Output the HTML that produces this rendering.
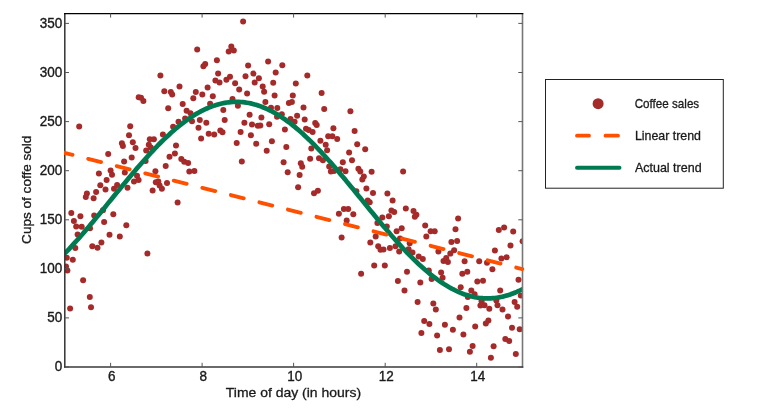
<!DOCTYPE html><html><head><meta charset="utf-8"><style>
html,body{margin:0;padding:0;background:#fff;width:759px;height:412px;overflow:hidden}
svg{display:block;font-family:"Liberation Sans",sans-serif;will-change:transform}
</style></head><body>
<svg width="759" height="412" viewBox="0 0 759 412">
<defs><clipPath id="ax"><rect x="64.8" y="13.6" width="457.7" height="353.4"/></clipPath><clipPath id="ax2"><rect x="64.0" y="13.6" width="462.0" height="353.4"/></clipPath></defs>
<g clip-path="url(#ax)" fill="#a52a2a">
<circle cx="243.1" cy="21.5" r="3.0"/>
<circle cx="197.2" cy="49.5" r="3.0"/>
<circle cx="231.3" cy="46.6" r="3.0"/>
<circle cx="228.7" cy="51.5" r="3.0"/>
<circle cx="233.8" cy="50.4" r="3.0"/>
<circle cx="216.9" cy="60.3" r="3.0"/>
<circle cx="205.2" cy="64.1" r="3.0"/>
<circle cx="203.4" cy="66.2" r="3.0"/>
<circle cx="248.1" cy="65.4" r="3.0"/>
<circle cx="268.1" cy="61.5" r="3.0"/>
<circle cx="282.3" cy="65.3" r="3.0"/>
<circle cx="275.7" cy="72.5" r="3.0"/>
<circle cx="218.1" cy="73.4" r="3.0"/>
<circle cx="253.4" cy="73.6" r="3.0"/>
<circle cx="160.4" cy="75.4" r="3.0"/>
<circle cx="164.3" cy="91.2" r="3.0"/>
<circle cx="170.8" cy="91.9" r="3.0"/>
<circle cx="172.2" cy="94.4" r="3.0"/>
<circle cx="138.7" cy="97.2" r="3.0"/>
<circle cx="141.0" cy="97.7" r="3.0"/>
<circle cx="143.4" cy="101.0" r="3.0"/>
<circle cx="168.2" cy="108.2" r="3.0"/>
<circle cx="79.2" cy="126.5" r="3.0"/>
<circle cx="130.2" cy="126.2" r="3.0"/>
<circle cx="173.1" cy="126.8" r="3.0"/>
<circle cx="178.5" cy="121.7" r="3.0"/>
<circle cx="179.5" cy="86.6" r="3.0"/>
<circle cx="215.4" cy="80.6" r="3.0"/>
<circle cx="219.5" cy="82.5" r="3.0"/>
<circle cx="226.4" cy="79.7" r="3.0"/>
<circle cx="230.0" cy="76.8" r="3.0"/>
<circle cx="235.1" cy="83.3" r="3.0"/>
<circle cx="207.6" cy="87.5" r="3.0"/>
<circle cx="195.8" cy="91.9" r="3.0"/>
<circle cx="202.3" cy="94.4" r="3.0"/>
<circle cx="193.3" cy="98.2" r="3.0"/>
<circle cx="212.8" cy="96.3" r="3.0"/>
<circle cx="232.5" cy="99.0" r="3.0"/>
<circle cx="182.7" cy="104.0" r="3.0"/>
<circle cx="210.1" cy="103.8" r="3.0"/>
<circle cx="245.5" cy="76.2" r="3.0"/>
<circle cx="258.9" cy="78.2" r="3.0"/>
<circle cx="254.7" cy="82.5" r="3.0"/>
<circle cx="273.2" cy="82.8" r="3.0"/>
<circle cx="239.2" cy="89.4" r="3.0"/>
<circle cx="247.1" cy="93.6" r="3.0"/>
<circle cx="262.7" cy="86.4" r="3.0"/>
<circle cx="264.1" cy="91.7" r="3.0"/>
<circle cx="274.6" cy="95.5" r="3.0"/>
<circle cx="292.8" cy="95.4" r="3.0"/>
<circle cx="265.4" cy="102.0" r="3.0"/>
<circle cx="186.6" cy="110.7" r="3.0"/>
<circle cx="190.5" cy="113.2" r="3.0"/>
<circle cx="185.1" cy="118.5" r="3.0"/>
<circle cx="192.0" cy="121.2" r="3.0"/>
<circle cx="199.8" cy="120.0" r="3.0"/>
<circle cx="206.3" cy="122.7" r="3.0"/>
<circle cx="198.5" cy="127.8" r="3.0"/>
<circle cx="223.3" cy="110.1" r="3.0"/>
<circle cx="224.7" cy="120.0" r="3.0"/>
<circle cx="220.3" cy="130.4" r="3.0"/>
<circle cx="222.5" cy="132.3" r="3.0"/>
<circle cx="208.7" cy="133.7" r="3.0"/>
<circle cx="214.2" cy="134.4" r="3.0"/>
<circle cx="237.9" cy="105.8" r="3.0"/>
<circle cx="249.6" cy="114.7" r="3.0"/>
<circle cx="261.4" cy="117.6" r="3.0"/>
<circle cx="244.4" cy="122.7" r="3.0"/>
<circle cx="252.0" cy="124.5" r="3.0"/>
<circle cx="257.8" cy="125.8" r="3.0"/>
<circle cx="260.3" cy="125.4" r="3.0"/>
<circle cx="269.2" cy="124.2" r="3.0"/>
<circle cx="240.6" cy="131.9" r="3.0"/>
<circle cx="277.3" cy="108.0" r="3.0"/>
<circle cx="284.9" cy="129.6" r="3.0"/>
<circle cx="271.0" cy="107.8" r="3.0"/>
<circle cx="281.8" cy="114.3" r="3.0"/>
<circle cx="277.0" cy="116.8" r="3.0"/>
<circle cx="290.5" cy="119.0" r="3.0"/>
<circle cx="294.6" cy="121.8" r="3.0"/>
<circle cx="288.9" cy="102.9" r="3.0"/>
<circle cx="291.9" cy="102.0" r="3.0"/>
<circle cx="303.5" cy="107.5" r="3.0"/>
<circle cx="324.2" cy="109.0" r="3.0"/>
<circle cx="297.1" cy="115.8" r="3.0"/>
<circle cx="304.7" cy="119.5" r="3.0"/>
<circle cx="315.2" cy="123.0" r="3.0"/>
<circle cx="316.7" cy="125.0" r="3.0"/>
<circle cx="306.0" cy="128.7" r="3.0"/>
<circle cx="308.7" cy="130.0" r="3.0"/>
<circle cx="312.6" cy="132.1" r="3.0"/>
<circle cx="307.3" cy="75.6" r="3.0"/>
<circle cx="295.8" cy="83.6" r="3.0"/>
<circle cx="321.6" cy="93.0" r="3.0"/>
<circle cx="350.4" cy="111.3" r="3.0"/>
<circle cx="333.4" cy="128.3" r="3.0"/>
<circle cx="354.6" cy="130.9" r="3.0"/>
<circle cx="108.2" cy="154.0" r="3.0"/>
<circle cx="129.0" cy="135.3" r="3.0"/>
<circle cx="162.9" cy="134.6" r="3.0"/>
<circle cx="132.8" cy="142.3" r="3.0"/>
<circle cx="135.5" cy="148.1" r="3.0"/>
<circle cx="121.9" cy="143.3" r="3.0"/>
<circle cx="122.9" cy="146.0" r="3.0"/>
<circle cx="149.8" cy="139.3" r="3.0"/>
<circle cx="153.9" cy="139.3" r="3.0"/>
<circle cx="148.8" cy="144.8" r="3.0"/>
<circle cx="150.8" cy="147.5" r="3.0"/>
<circle cx="146.2" cy="150.6" r="3.0"/>
<circle cx="131.7" cy="157.6" r="3.0"/>
<circle cx="124.1" cy="161.6" r="3.0"/>
<circle cx="176.0" cy="145.6" r="3.0"/>
<circle cx="174.9" cy="153.5" r="3.0"/>
<circle cx="169.5" cy="156.8" r="3.0"/>
<circle cx="145.6" cy="161.0" r="3.0"/>
<circle cx="98.9" cy="173.5" r="3.0"/>
<circle cx="110.6" cy="170.5" r="3.0"/>
<circle cx="112.0" cy="174.7" r="3.0"/>
<circle cx="106.6" cy="180.0" r="3.0"/>
<circle cx="100.3" cy="185.2" r="3.0"/>
<circle cx="105.5" cy="189.4" r="3.0"/>
<circle cx="96.1" cy="192.1" r="3.0"/>
<circle cx="86.9" cy="193.4" r="3.0"/>
<circle cx="117.1" cy="185.0" r="3.0"/>
<circle cx="114.0" cy="188.8" r="3.0"/>
<circle cx="165.7" cy="166.1" r="3.0"/>
<circle cx="155.4" cy="171.3" r="3.0"/>
<circle cx="124.8" cy="172.4" r="3.0"/>
<circle cx="137.0" cy="175.8" r="3.0"/>
<circle cx="138.6" cy="180.0" r="3.0"/>
<circle cx="134.0" cy="181.6" r="3.0"/>
<circle cx="127.5" cy="187.7" r="3.0"/>
<circle cx="155.8" cy="182.3" r="3.0"/>
<circle cx="158.3" cy="181.6" r="3.0"/>
<circle cx="159.6" cy="185.4" r="3.0"/>
<circle cx="161.9" cy="188.7" r="3.0"/>
<circle cx="167.0" cy="183.0" r="3.0"/>
<circle cx="152.6" cy="190.4" r="3.0"/>
<circle cx="201.1" cy="138.5" r="3.0"/>
<circle cx="250.9" cy="135.3" r="3.0"/>
<circle cx="236.7" cy="143.1" r="3.0"/>
<circle cx="256.2" cy="143.7" r="3.0"/>
<circle cx="271.9" cy="141.2" r="3.0"/>
<circle cx="286.3" cy="147.0" r="3.0"/>
<circle cx="266.7" cy="150.7" r="3.0"/>
<circle cx="241.8" cy="161.6" r="3.0"/>
<circle cx="283.6" cy="162.2" r="3.0"/>
<circle cx="181.3" cy="159.0" r="3.0"/>
<circle cx="184.2" cy="161.7" r="3.0"/>
<circle cx="188.1" cy="163.0" r="3.0"/>
<circle cx="189.3" cy="171.4" r="3.0"/>
<circle cx="194.4" cy="170.9" r="3.0"/>
<circle cx="287.7" cy="172.2" r="3.0"/>
<circle cx="328.2" cy="136.2" r="3.0"/>
<circle cx="332.3" cy="136.2" r="3.0"/>
<circle cx="337.2" cy="138.9" r="3.0"/>
<circle cx="320.4" cy="140.8" r="3.0"/>
<circle cx="325.7" cy="144.7" r="3.0"/>
<circle cx="327.1" cy="150.3" r="3.0"/>
<circle cx="311.3" cy="148.6" r="3.0"/>
<circle cx="349.1" cy="152.6" r="3.0"/>
<circle cx="310.1" cy="158.8" r="3.0"/>
<circle cx="319.0" cy="158.3" r="3.0"/>
<circle cx="322.9" cy="160.2" r="3.0"/>
<circle cx="342.8" cy="162.2" r="3.0"/>
<circle cx="357.2" cy="144.3" r="3.0"/>
<circle cx="365.2" cy="149.3" r="3.0"/>
<circle cx="352.0" cy="160.3" r="3.0"/>
<circle cx="300.8" cy="163.3" r="3.0"/>
<circle cx="302.2" cy="166.7" r="3.0"/>
<circle cx="299.6" cy="174.9" r="3.0"/>
<circle cx="298.1" cy="187.3" r="3.0"/>
<circle cx="317.9" cy="190.8" r="3.0"/>
<circle cx="314.0" cy="193.2" r="3.0"/>
<circle cx="329.2" cy="166.5" r="3.0"/>
<circle cx="330.9" cy="171.4" r="3.0"/>
<circle cx="334.0" cy="170.9" r="3.0"/>
<circle cx="340.4" cy="169.2" r="3.0"/>
<circle cx="345.5" cy="171.2" r="3.0"/>
<circle cx="358.4" cy="168.7" r="3.0"/>
<circle cx="360.3" cy="171.4" r="3.0"/>
<circle cx="371.6" cy="171.8" r="3.0"/>
<circle cx="363.8" cy="176.4" r="3.0"/>
<circle cx="362.3" cy="179.6" r="3.0"/>
<circle cx="403.1" cy="171.4" r="3.0"/>
<circle cx="366.4" cy="188.5" r="3.0"/>
<circle cx="373.0" cy="192.9" r="3.0"/>
<circle cx="387.4" cy="193.5" r="3.0"/>
<circle cx="356.4" cy="191.2" r="3.0"/>
<circle cx="85.8" cy="197.0" r="3.0"/>
<circle cx="93.6" cy="198.3" r="3.0"/>
<circle cx="71.3" cy="213.0" r="3.0"/>
<circle cx="80.4" cy="216.3" r="3.0"/>
<circle cx="73.9" cy="221.1" r="3.0"/>
<circle cx="94.2" cy="215.5" r="3.0"/>
<circle cx="103.0" cy="210.2" r="3.0"/>
<circle cx="113.3" cy="214.2" r="3.0"/>
<circle cx="104.1" cy="221.9" r="3.0"/>
<circle cx="177.6" cy="202.6" r="3.0"/>
<circle cx="343.9" cy="208.9" r="3.0"/>
<circle cx="348.2" cy="208.9" r="3.0"/>
<circle cx="338.9" cy="213.8" r="3.0"/>
<circle cx="346.7" cy="220.6" r="3.0"/>
<circle cx="367.7" cy="200.4" r="3.0"/>
<circle cx="369.7" cy="202.3" r="3.0"/>
<circle cx="392.6" cy="200.4" r="3.0"/>
<circle cx="391.4" cy="210.5" r="3.0"/>
<circle cx="394.2" cy="212.1" r="3.0"/>
<circle cx="405.8" cy="208.6" r="3.0"/>
<circle cx="353.3" cy="214.2" r="3.0"/>
<circle cx="382.3" cy="217.5" r="3.0"/>
<circle cx="388.9" cy="216.2" r="3.0"/>
<circle cx="377.4" cy="222.9" r="3.0"/>
<circle cx="413.5" cy="211.0" r="3.0"/>
<circle cx="416.4" cy="214.8" r="3.0"/>
<circle cx="414.8" cy="216.7" r="3.0"/>
<circle cx="458.1" cy="218.5" r="3.0"/>
<circle cx="76.2" cy="226.4" r="3.0"/>
<circle cx="81.7" cy="226.8" r="3.0"/>
<circle cx="90.0" cy="228.3" r="3.0"/>
<circle cx="77.6" cy="234.5" r="3.0"/>
<circle cx="109.5" cy="234.8" r="3.0"/>
<circle cx="119.8" cy="236.4" r="3.0"/>
<circle cx="101.4" cy="242.5" r="3.0"/>
<circle cx="92.3" cy="246.3" r="3.0"/>
<circle cx="97.5" cy="247.8" r="3.0"/>
<circle cx="75.3" cy="248.1" r="3.0"/>
<circle cx="126.3" cy="225.3" r="3.0"/>
<circle cx="341.6" cy="237.5" r="3.0"/>
<circle cx="386.8" cy="226.5" r="3.0"/>
<circle cx="396.6" cy="231.2" r="3.0"/>
<circle cx="401.7" cy="228.3" r="3.0"/>
<circle cx="375.7" cy="236.6" r="3.0"/>
<circle cx="370.3" cy="242.4" r="3.0"/>
<circle cx="378.2" cy="246.2" r="3.0"/>
<circle cx="380.5" cy="249.8" r="3.0"/>
<circle cx="383.5" cy="249.4" r="3.0"/>
<circle cx="389.9" cy="247.9" r="3.0"/>
<circle cx="395.5" cy="246.3" r="3.0"/>
<circle cx="399.2" cy="251.5" r="3.0"/>
<circle cx="400.0" cy="238.4" r="3.0"/>
<circle cx="409.7" cy="243.3" r="3.0"/>
<circle cx="408.6" cy="249.2" r="3.0"/>
<circle cx="412.5" cy="252.4" r="3.0"/>
<circle cx="425.2" cy="225.4" r="3.0"/>
<circle cx="426.3" cy="236.6" r="3.0"/>
<circle cx="430.6" cy="231.2" r="3.0"/>
<circle cx="434.7" cy="231.2" r="3.0"/>
<circle cx="455.5" cy="229.2" r="3.0"/>
<circle cx="451.4" cy="242.1" r="3.0"/>
<circle cx="457.1" cy="241.0" r="3.0"/>
<circle cx="454.1" cy="250.3" r="3.0"/>
<circle cx="438.4" cy="251.4" r="3.0"/>
<circle cx="498.8" cy="230.0" r="3.0"/>
<circle cx="504.1" cy="227.5" r="3.0"/>
<circle cx="513.2" cy="231.4" r="3.0"/>
<circle cx="510.5" cy="245.6" r="3.0"/>
<circle cx="494.9" cy="250.6" r="3.0"/>
<circle cx="522.6" cy="241.3" r="3.0"/>
<circle cx="66.8" cy="257.7" r="3.0"/>
<circle cx="72.8" cy="259.7" r="3.0"/>
<circle cx="66.0" cy="266.4" r="3.0"/>
<circle cx="67.4" cy="270.4" r="3.0"/>
<circle cx="83.1" cy="280.3" r="3.0"/>
<circle cx="147.4" cy="253.5" r="3.0"/>
<circle cx="89.8" cy="296.9" r="3.0"/>
<circle cx="91.0" cy="307.2" r="3.0"/>
<circle cx="70.1" cy="308.5" r="3.0"/>
<circle cx="374.2" cy="265.6" r="3.0"/>
<circle cx="384.8" cy="265.6" r="3.0"/>
<circle cx="361.1" cy="273.8" r="3.0"/>
<circle cx="407.0" cy="271.8" r="3.0"/>
<circle cx="397.9" cy="281.0" r="3.0"/>
<circle cx="418.7" cy="256.5" r="3.0"/>
<circle cx="422.8" cy="259.1" r="3.0"/>
<circle cx="450.3" cy="253.6" r="3.0"/>
<circle cx="443.5" cy="261.1" r="3.0"/>
<circle cx="446.2" cy="257.9" r="3.0"/>
<circle cx="447.9" cy="262.1" r="3.0"/>
<circle cx="464.6" cy="261.2" r="3.0"/>
<circle cx="428.8" cy="270.5" r="3.0"/>
<circle cx="441.1" cy="272.4" r="3.0"/>
<circle cx="442.6" cy="277.7" r="3.0"/>
<circle cx="431.6" cy="279.0" r="3.0"/>
<circle cx="462.3" cy="273.8" r="3.0"/>
<circle cx="467.3" cy="271.7" r="3.0"/>
<circle cx="420.3" cy="282.5" r="3.0"/>
<circle cx="479.2" cy="261.2" r="3.0"/>
<circle cx="487.0" cy="262.7" r="3.0"/>
<circle cx="501.4" cy="258.4" r="3.0"/>
<circle cx="506.6" cy="257.3" r="3.0"/>
<circle cx="492.4" cy="269.3" r="3.0"/>
<circle cx="477.3" cy="281.6" r="3.0"/>
<circle cx="483.0" cy="280.8" r="3.0"/>
<circle cx="518.5" cy="279.8" r="3.0"/>
<circle cx="404.5" cy="290.4" r="3.0"/>
<circle cx="460.7" cy="287.3" r="3.0"/>
<circle cx="417.6" cy="302.1" r="3.0"/>
<circle cx="433.3" cy="303.4" r="3.0"/>
<circle cx="435.8" cy="309.4" r="3.0"/>
<circle cx="466.4" cy="308.0" r="3.0"/>
<circle cx="467.8" cy="297.0" r="3.0"/>
<circle cx="471.3" cy="290.4" r="3.0"/>
<circle cx="474.6" cy="294.3" r="3.0"/>
<circle cx="500.2" cy="290.4" r="3.0"/>
<circle cx="520.8" cy="295.4" r="3.0"/>
<circle cx="481.6" cy="301.3" r="3.0"/>
<circle cx="480.4" cy="305.4" r="3.0"/>
<circle cx="484.5" cy="305.2" r="3.0"/>
<circle cx="489.3" cy="308.7" r="3.0"/>
<circle cx="496.3" cy="300.5" r="3.0"/>
<circle cx="497.5" cy="305.2" r="3.0"/>
<circle cx="502.5" cy="309.6" r="3.0"/>
<circle cx="514.6" cy="302.1" r="3.0"/>
<circle cx="517.2" cy="306.7" r="3.0"/>
<circle cx="424.2" cy="320.9" r="3.0"/>
<circle cx="429.4" cy="324.0" r="3.0"/>
<circle cx="421.4" cy="333.1" r="3.0"/>
<circle cx="437.1" cy="335.4" r="3.0"/>
<circle cx="444.9" cy="324.7" r="3.0"/>
<circle cx="452.9" cy="329.7" r="3.0"/>
<circle cx="459.5" cy="317.5" r="3.0"/>
<circle cx="463.4" cy="334.6" r="3.0"/>
<circle cx="508.0" cy="316.5" r="3.0"/>
<circle cx="488.4" cy="320.6" r="3.0"/>
<circle cx="485.8" cy="323.5" r="3.0"/>
<circle cx="475.2" cy="326.4" r="3.0"/>
<circle cx="512.0" cy="327.8" r="3.0"/>
<circle cx="519.7" cy="329.2" r="3.0"/>
<circle cx="505.3" cy="339.0" r="3.0"/>
<circle cx="509.2" cy="341.0" r="3.0"/>
<circle cx="439.9" cy="350.0" r="3.0"/>
<circle cx="449.0" cy="349.2" r="3.0"/>
<circle cx="472.6" cy="346.1" r="3.0"/>
<circle cx="469.9" cy="351.7" r="3.0"/>
<circle cx="493.6" cy="346.2" r="3.0"/>
<circle cx="490.9" cy="357.7" r="3.0"/>
<circle cx="515.8" cy="354.0" r="3.0"/>
</g>
<g clip-path="url(#ax)" fill="none" stroke-linecap="round">
<path d="M62.8,255.5 L64.8,253.4 L66.8,251.4 L68.8,249.3 L70.8,247.1 L72.8,244.9 L74.8,242.7 L76.8,240.5 L78.8,238.3 L80.8,236.0 L82.8,233.7 L84.8,231.4 L86.8,229.0 L88.8,226.7 L90.8,224.3 L92.8,221.9 L94.8,219.5 L96.8,217.1 L98.8,214.7 L100.8,212.2 L102.8,209.8 L104.8,207.4 L106.8,204.9 L108.8,202.4 L110.8,200.0 L112.8,197.5 L114.8,195.1 L116.8,192.6 L118.8,190.2 L120.8,187.7 L122.8,185.3 L124.8,182.9 L126.8,180.5 L128.8,178.1 L130.8,175.7 L132.8,173.3 L134.8,171.0 L136.8,168.6 L138.8,166.3 L140.8,164.0 L142.8,161.7 L144.8,159.5 L146.8,157.3 L148.8,155.1 L150.8,152.9 L152.8,150.8 L154.8,148.6 L156.8,146.6 L158.8,144.5 L160.8,142.5 L162.8,140.5 L164.8,138.6 L166.8,136.7 L168.8,134.9 L170.8,133.0 L172.8,131.3 L174.8,129.5 L176.8,127.8 L178.8,126.2 L180.8,124.6 L182.8,123.1 L184.8,121.6 L186.8,120.1 L188.8,118.7 L190.8,117.4 L192.8,116.1 L194.8,114.8 L196.8,113.6 L198.8,112.5 L200.8,111.4 L202.8,110.4 L204.8,109.4 L206.8,108.5 L208.8,107.6 L210.8,106.8 L212.8,106.1 L214.8,105.4 L216.8,104.8 L218.8,104.2 L220.8,103.7 L222.8,103.3 L224.8,102.9 L226.8,102.5 L228.8,102.3 L230.8,102.1 L232.8,101.9 L234.8,101.9 L236.8,101.9 L238.8,101.9 L240.8,102.0 L242.8,102.2 L244.8,102.4 L246.8,102.7 L248.8,103.0 L250.8,103.4 L252.8,103.9 L254.8,104.5 L256.8,105.0 L258.8,105.7 L260.8,106.4 L262.8,107.2 L264.8,108.0 L266.8,108.9 L268.8,109.8 L270.8,110.8 L272.8,111.9 L274.8,113.0 L276.8,114.1 L278.8,115.4 L280.8,116.6 L282.8,118.0 L284.8,119.3 L286.8,120.8 L288.8,122.2 L290.8,123.7 L292.8,125.3 L294.8,126.9 L296.8,128.6 L298.8,130.3 L300.8,132.1 L302.8,133.8 L304.8,135.7 L306.8,137.6 L308.8,139.5 L310.8,141.4 L312.8,143.4 L314.8,145.4 L316.8,147.5 L318.8,149.6 L320.8,151.7 L322.8,153.9 L324.8,156.0 L326.8,158.3 L328.8,160.5 L330.8,162.7 L332.8,165.0 L334.8,167.3 L336.8,169.7 L338.8,172.0 L340.8,174.4 L342.8,176.8 L344.8,179.1 L346.8,181.6 L348.8,184.0 L350.8,186.4 L352.8,188.8 L354.8,191.3 L356.8,193.7 L358.8,196.2 L360.8,198.6 L362.8,201.1 L364.8,203.5 L366.8,206.0 L368.8,208.5 L370.8,210.9 L372.8,213.3 L374.8,215.8 L376.8,218.2 L378.8,220.6 L380.8,223.0 L382.8,225.4 L384.8,227.7 L386.8,230.1 L388.8,232.4 L390.8,234.7 L392.8,237.0 L394.8,239.3 L396.8,241.5 L398.8,243.7 L400.8,245.9 L402.8,248.1 L404.8,250.2 L406.8,252.3 L408.8,254.4 L410.8,256.4 L412.8,258.4 L414.8,260.4 L416.8,262.3 L418.8,264.2 L420.8,266.0 L422.8,267.8 L424.8,269.6 L426.8,271.3 L428.8,272.9 L430.8,274.6 L432.8,276.2 L434.8,277.7 L436.8,279.2 L438.8,280.6 L440.8,282.0 L442.8,283.3 L444.8,284.6 L446.8,285.8 L448.8,287.0 L450.8,288.1 L452.8,289.2 L454.8,290.2 L456.8,291.1 L458.8,292.0 L460.8,292.9 L462.8,293.7 L464.8,294.4 L466.8,295.0 L468.8,295.6 L470.8,296.2 L472.8,296.7 L474.8,297.1 L476.8,297.5 L478.8,297.8 L480.8,298.0 L482.8,298.2 L484.8,298.3 L486.8,298.3 L488.8,298.3 L490.8,298.3 L492.8,298.1 L494.8,298.0 L496.8,297.7 L498.8,297.4 L500.8,297.0 L502.8,296.6 L504.8,296.1 L506.8,295.5 L508.8,294.9 L510.8,294.3 L512.8,293.5 L514.8,292.7 L516.8,291.9 L518.8,291.0 L520.8,290.0 L522.8,289.0" stroke="#007a50" stroke-width="4.7"/>
</g>
<path d="M64.8,13.0 V367.7" stroke="#333" stroke-width="1.5" fill="none"/>
<path d="M522.5,13.0 V367.7" stroke="#777" stroke-width="1.6" fill="none"/>
<path d="M64.1,13.6 H523.3" stroke="#000" stroke-width="1.3" fill="none"/>
<path d="M64.1,367.0 H523.3" stroke="#3a3a3a" stroke-width="1.6" fill="none"/>
<path d="M110.6,367.0 v-4.2 M110.6,13.6 v4 M202.1,367.0 v-4.2 M202.1,13.6 v4 M293.6,367.0 v-4.2 M293.6,13.6 v4 M385.2,367.0 v-4.2 M385.2,13.6 v4 M476.7,367.0 v-4.2 M476.7,13.6 v4 M64.8,367.0 h4.2 M522.5,367.0 h-4.2 M64.8,317.9 h4.2 M522.5,317.9 h-4.2 M64.8,268.8 h4.2 M522.5,268.8 h-4.2 M64.8,219.8 h4.2 M522.5,219.8 h-4.2 M64.8,170.7 h4.2 M522.5,170.7 h-4.2 M64.8,121.6 h4.2 M522.5,121.6 h-4.2 M64.8,72.5 h4.2 M522.5,72.5 h-4.2 M64.8,23.4 h4.2 M522.5,23.4 h-4.2" stroke="#555" stroke-width="1" fill="none"/>
<path clip-path="url(#ax2)" d="M64.5,152.8 L522.3,269.1" fill="none" stroke-linecap="round" stroke="#ff5000" stroke-width="3.8" stroke-dasharray="13.3 16.14" stroke-dashoffset="5.0"/>
<g fill="#1a1a1a" stroke="#1a1a1a" stroke-width="0.35" font-size="13.5">
<text transform="translate(111.7,380.7) scale(1,1.06)" text-anchor="middle">6</text>
<text transform="translate(203.2,380.7) scale(1,1.06)" text-anchor="middle">8</text>
<text transform="translate(294.8,380.7) scale(1,1.06)" text-anchor="middle">10</text>
<text transform="translate(386.3,380.7) scale(1,1.06)" text-anchor="middle">12</text>
<text transform="translate(477.8,380.7) scale(1,1.06)" text-anchor="middle">14</text>
<text transform="translate(62.3,371.3) scale(1,1.1)" text-anchor="end">0</text>
<text transform="translate(62.3,322.2) scale(1,1.1)" text-anchor="end">50</text>
<text transform="translate(62.3,273.1) scale(1,1.1)" text-anchor="end">100</text>
<text transform="translate(62.3,224.1) scale(1,1.1)" text-anchor="end">150</text>
<text transform="translate(62.3,175.0) scale(1,1.1)" text-anchor="end">200</text>
<text transform="translate(62.3,125.9) scale(1,1.1)" text-anchor="end">250</text>
<text transform="translate(62.3,76.8) scale(1,1.1)" text-anchor="end">300</text>
<text transform="translate(62.3,27.7) scale(1,1.1)" text-anchor="end">350</text>
</g>
<text x="225.8" y="397.4" font-size="13.2" fill="#1a1a1a" stroke="#1a1a1a" stroke-width="0.3" textLength="135.3" lengthAdjust="spacingAndGlyphs">Time of day (in hours)</text>
<text transform="translate(30.9,243.9) rotate(-90)" x="0" y="0" font-size="13.2" fill="#1a1a1a" stroke="#1a1a1a" stroke-width="0.3" textLength="108.3" lengthAdjust="spacingAndGlyphs">Cups of coffe sold</text>
<rect x="545.5" y="79.5" width="177.8" height="108.7" fill="#fff" stroke="#222" stroke-width="1"/>
<circle cx="598.1" cy="103.7" r="5.5" fill="#a52a2a"/>
<path d="M577,135.7 H589 M605.5,135.7 H618" stroke="#ff5000" stroke-width="3.8" stroke-linecap="round"/>
<path d="M577,167.8 H619.5" stroke="#007a50" stroke-width="3.9" stroke-linecap="round"/>
<g fill="#1a1a1a" stroke="#1a1a1a" stroke-width="0.3" font-size="12.8">
<text x="634.7" y="107.8" textLength="64.5" lengthAdjust="spacingAndGlyphs">Coffee sales</text>
<text x="634.9" y="139.8" textLength="66" lengthAdjust="spacingAndGlyphs">Linear trend</text>
<text x="634.9" y="171.8" textLength="66.7" lengthAdjust="spacingAndGlyphs">Actual trend</text>
</g>
</svg></body></html>
